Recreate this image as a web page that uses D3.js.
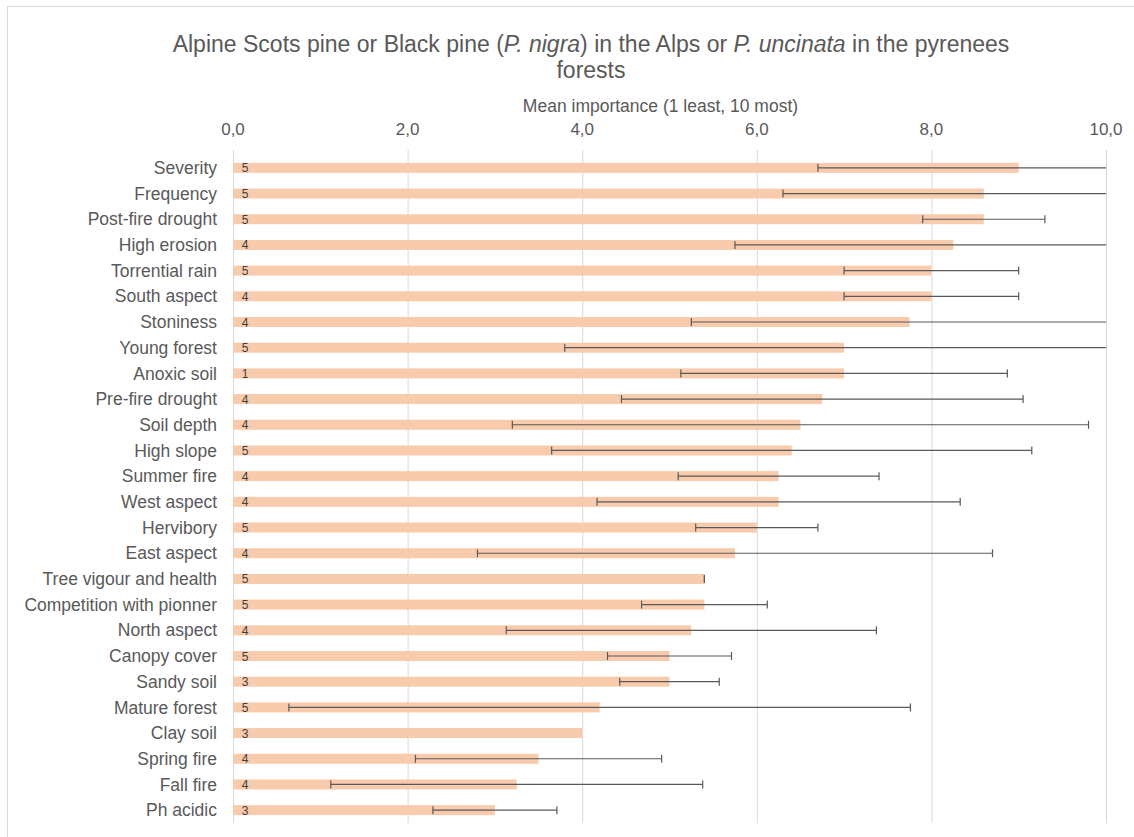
<!DOCTYPE html>
<html>
<head>
<meta charset="utf-8">
<script src="https://cdn.jsdelivr.net/npm/d3@7"></script>
<style>
  body { margin: 0; background: #fff; }
  svg text { font-family: "Liberation Sans", Arial, sans-serif; fill: #595959; }
</style>
</head>
<body>
<svg id="chart" width="1134" height="837"></svg>
<script>
// factors, top to bottom
var factors = ["Severity", "Frequency", "Post-fire drought", "High erosion", "Torrential rain",
  "South aspect", "Stoniness", "Young forest", "Anoxic soil", "Pre-fire drought", "Soil depth",
  "High slope", "Summer fire", "West aspect", "Hervibory", "East aspect", "Tree vigour and health",
  "Competition with pionner", "North aspect", "Canopy cover", "Sandy soil", "Mature forest",
  "Clay soil", "Spring fire", "Fall fire", "Ph acidic"];
// mean importance
var means = [9.0, 8.6, 8.6, 8.25, 8.0, 8.0, 7.75, 7.0, 7.0, 6.75, 6.5, 6.4, 6.25, 6.25, 6.0,
  5.75, 5.4, 5.4, 5.25, 5.0, 5.0, 4.2, 4.0, 3.5, 3.25, 3.0];
// standard deviation (error bars), null = none
var sds = [2.3, 2.3, 0.7, 2.5, 1.0, 1.0, 2.5, 3.2, 1.87, 2.3, 3.3, 2.75, 1.15, 2.08, 0.7,
  2.95, 0, 0.72, 2.12, 0.71, 0.57, 3.56, null, 1.41, 2.13, 0.71];
// number of answers
var counts = [5, 5, 5, 4, 5, 4, 4, 5, 1, 4, 4, 5, 4, 4, 5, 4, 5, 5, 4, 5, 3, 5, 3, 4, 4, 3];
var ticks = [0, 2, 4, 6, 8, 10];

var svg = d3.select("#chart");
var margin = {top: 150, left: 233, right: 1134 - 1106, bottom: 837 - 823};
var width = 1134, height = 837;

// chart border
svg.append("rect")
  .attr("x", 7.5).attr("y", 6.5)
  .attr("width", 1140).attr("height", 840)
  .attr("fill", "none").attr("stroke", "#d9d9d9");

var x = d3.scaleLinear().domain([0, 10]).range([margin.left, width - margin.right]);
var y = d3.scaleBand().domain(factors).range([155, 823]);

var data = factors.map(function(f, i) {
  return {name: f, mean: means[i], sd: sds[i], n: counts[i]};
});

// gridlines
svg.append("g").selectAll("line").data(ticks).enter().append("line")
  .attr("x1", function(d) { return x(d) + 0.5; })
  .attr("x2", function(d) { return x(d) + 0.5; })
  .attr("y1", margin.top).attr("y2", height - margin.bottom)
  .attr("stroke", "#d9d9d9").attr("stroke-width", 1);

// top axis labels
var fmt = function(d) { return d3.format(".1f")(d).replace(".", ","); };
svg.append("g").selectAll("text").data(ticks).enter().append("text")
  .attr("x", function(d) { return x(d); })
  .attr("y", 135)
  .attr("text-anchor", "middle")
  .style("font-size", "17px")
  .text(fmt);

svg.append("text")
  .attr("x", (x(0) + x(10)) / 2 - 9).attr("y", 112)
  .attr("text-anchor", "middle")
  .style("font-size", "17.5px")
  .text("Mean importance (1 least, 10 most)");

// title
var title = svg.append("text")
  .attr("x", 591).attr("y", 52)
  .attr("text-anchor", "middle")
  .style("font-size", "23px");
title.append("tspan").text("Alpine Scots pine or Black pine (");
title.append("tspan").style("font-style", "italic").text("P. nigra");
title.append("tspan").text(") in the Alps or ");
title.append("tspan").style("font-style", "italic").text("P. uncinata");
title.append("tspan").text(" in the pyrenees");
svg.append("text")
  .attr("x", 591).attr("y", 78)
  .attr("text-anchor", "middle")
  .style("font-size", "23px")
  .text("forests");

// bars
var barH = 10;
svg.append("g").selectAll("rect").data(data).enter().append("rect")
  .attr("x", x(0))
  .attr("y", function(d) { return y(d.name) + y.bandwidth() / 2 - barH / 2; })
  .attr("width", function(d) { return x(d.mean) - x(0); })
  .attr("height", barH)
  .attr("fill", "#f8cbad");

// category labels
svg.append("g").selectAll("text").data(data).enter().append("text")
  .attr("x", 217)
  .attr("y", function(d) { return y(d.name) + y.bandwidth() / 2; })
  .attr("dy", "0.35em")
  .attr("text-anchor", "end")
  .style("font-size", "17.5px")
  .text(function(d) { return d.name; });

// n labels inside bars
svg.append("g").selectAll("text").data(data).enter().append("text")
  .attr("x", x(0) + 12)
  .attr("y", function(d) { return y(d.name) + y.bandwidth() / 2; })
  .attr("dy", "0.38em")
  .attr("text-anchor", "middle")
  .style("font-size", "12px")
  .style("fill", "#404040")
  .text(function(d) { return d.n; });

// error bars (clipped at axis max, no cap where clipped)
var eb = data.filter(function(d) { return d.sd !== null; });
var eg = svg.append("g").attr("stroke", "#595959").attr("stroke-width", 1.2);
eb.forEach(function(d) {
  var cy = y(d.name) + y.bandwidth() / 2;
  var lo = Math.max(0, d.mean - d.sd), hi = Math.min(10, d.mean + d.sd);
  eg.append("line").attr("x1", x(lo)).attr("x2", x(hi)).attr("y1", cy).attr("y2", cy);
  if (d.mean - d.sd >= 0)
    eg.append("line").attr("x1", x(lo)).attr("x2", x(lo)).attr("y1", cy - 4).attr("y2", cy + 4);
  if (d.mean + d.sd <= 10)
    eg.append("line").attr("x1", x(hi)).attr("x2", x(hi)).attr("y1", cy - 4).attr("y2", cy + 4);
});
</script>
</body>
</html>
